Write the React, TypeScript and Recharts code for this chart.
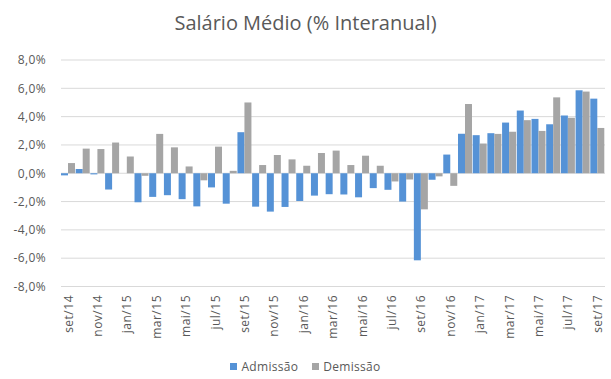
import React from "react"
import { Bar, BarChart, CartesianGrid, Legend, XAxis, YAxis } from "recharts"

// months set/14 .. set/17
const months = [
  "set/14", "out/14", "nov/14", "dez/14", "jan/15", "fev/15", "mar/15", "abr/15", "mai/15", "jun/15",
  "jul/15", "ago/15", "set/15", "out/15", "nov/15", "dez/15", "jan/16", "fev/16", "mar/16", "abr/16",
  "mai/16", "jun/16", "jul/16", "ago/16", "set/16", "out/16", "nov/16", "dez/16", "jan/17", "fev/17",
  "mar/17", "abr/17", "mai/17", "jun/17", "jul/17", "ago/17", "set/17",
]

const admissao = [
  -0.15, 0.3, -0.08, -1.15, 0.0, -2.05, -1.67, -1.55, -1.83, -2.34,
  -1.0, -2.15, 2.9, -2.36, -2.71, -2.38, -1.96, -1.58, -1.48, -1.5,
  -1.7, -1.05, -1.17, -2.0, -6.15, -0.46, 1.32, 2.79, 2.69, 2.83,
  3.58, 4.43, 3.84, 3.46, 4.08, 5.86, 5.27,
]

const demissao = [
  0.72, 1.74, 1.71, 2.17, 1.19, -0.18, 2.78, 1.83, 0.48, -0.5,
  1.88, 0.17, 5.0, 0.58, 1.29, 0.98, 0.53, 1.43, 1.6, 0.58,
  1.24, 0.53, -0.58, -0.44, -2.55, -0.22, -0.89, 4.89, 2.1, 2.78,
  2.94, 3.75, 2.99, 5.36, 3.92, 5.77, 3.2,
]

const yTicks = [-8, -6, -4, -2, 0, 2, 4, 6, 8]

const data = months.map((m, i) => ({ name: m, Admissão: admissao[i], Demissão: demissao[i] }))

const FONT = "'Open Sans', sans-serif"
const TEXT = "#595959"
const BLUE = "#5592d6"
const GRAY = "#a5a5a5"

const fmt = (v: number) => v.toFixed(1).replace(".", ",") + "%"

function MonthTick(props: any) {
  const { x, payload } = props
  return (
    <g transform={`translate(${x},295)`}>
      <text
        x={0}
        y={0}
        dy="0.35em"
        transform="rotate(-90)"
        textAnchor="end"
        fill={TEXT}
        fontSize={12}
        letterSpacing={0.5}
        fontFamily={FONT}
      >
        {payload.value}
      </text>
    </g>
  )
}

function LegendBox() {
  const items = [
    { label: "Admissão", color: BLUE },
    { label: "Demissão", color: GRAY },
  ]
  return (
    <div style={{ display: "flex", justifyContent: "center", gap: 14, fontFamily: FONT, fontSize: 12, color: TEXT }}>
      {items.map((it) => (
        <div key={it.label} style={{ display: "flex", alignItems: "center", gap: 4 }}>
          <span style={{ width: 7, height: 7, background: it.color, display: "inline-block" }} />
          <span style={{ letterSpacing: 0.3 }}>{it.label}</span>
        </div>
      ))}
    </div>
  )
}

export default function App() {
  return (
    <div style={{ position: "absolute", left: 0, top: 0, width: 611, height: 379, background: "#fff" }}>
      <div
        style={{
          position: "absolute",
          top: 9,
          width: 611,
          textAlign: "center",
          fontFamily: FONT,
          fontSize: 20,
          color: TEXT,
        }}
      >
        Salário Médio (% Interanual)
      </div>
      <BarChart
        width={611}
        height={379}
        data={data}
        barCategoryGap={0}
        barGap={0}
        margin={{ top: 60, right: 6, left: 0, bottom: 0 }}
      >
        <CartesianGrid vertical={false} stroke="#d9d9d9" />
        <XAxis
          dataKey="name"
          interval={1}
          height={92.5}
          axisLine={false}
          tickLine={false}
          tick={<MonthTick />}
        />
        <YAxis
          width={61}
          domain={[-8, 8]}
          ticks={yTicks}
          tickFormatter={fmt}
          axisLine={false}
          tickLine={false}
          tickSize={0}
          tickMargin={15}
          tick={{ fill: TEXT, fontSize: 12, fontFamily: FONT, letterSpacing: 0.4 }}
        />
        <Legend
          layout="horizontal"
          verticalAlign="middle"
          align="center"
          wrapperStyle={{ top: 358, left: 0, width: 611 }}
          content={() => <LegendBox />}
        />
        <Bar dataKey="Admissão" fill={BLUE} isAnimationActive={false} />
        <Bar dataKey="Demissão" fill={GRAY} isAnimationActive={false} />
      </BarChart>
    </div>
  )
}
